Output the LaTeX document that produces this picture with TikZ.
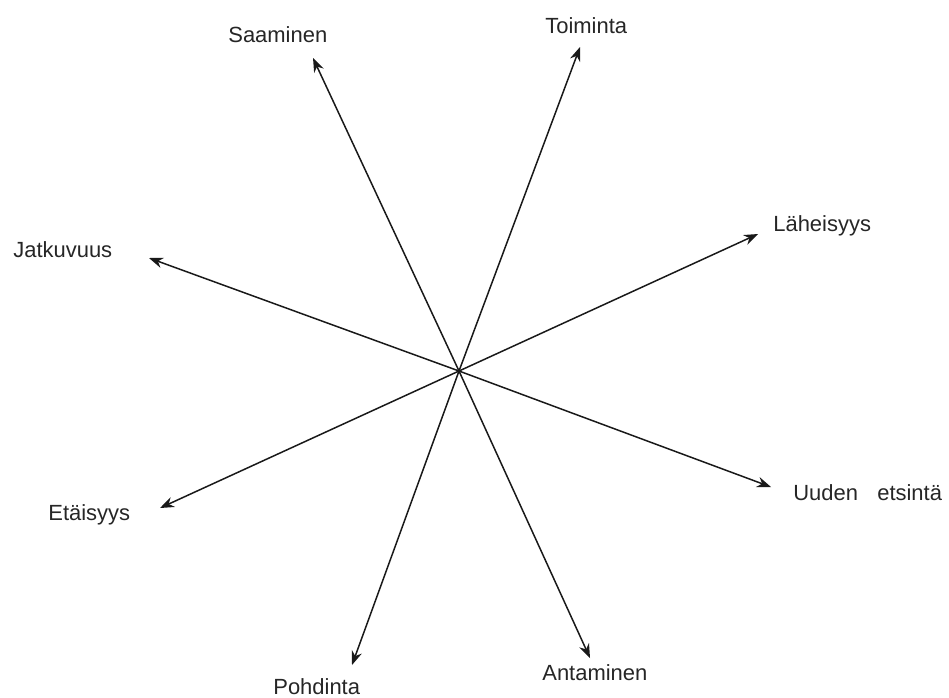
\documentclass[tikz,border=0pt]{standalone}
\usepackage{fontspec}
\setmainfont{Liberation Sans}
\usetikzlibrary{arrows.meta}

\begin{document}
\begin{tikzpicture}[
  x=0.02cm,y=-0.02cm,
  every node/.style={font=\fontsize{12.5}{15}\selectfont,text=black!85,inner sep=0pt},
  lbl/.style={anchor=base west},
  ray/.style={black!90,line width=0.85pt,-{Stealth[length=8pt,width=6pt]}}]

  % --- frame, same proportions as the page
  \useasboundingbox (0,0) rectangle (949,697);

  % --- common centre of all rays
  \coordinate (o) at (459,371);

  % --- arrow ends
  \coordinate (saa) at (313, 58);
  \coordinate (toi) at (580, 47);
  \coordinate (lah) at (758,234);
  \coordinate (jat) at (149,258);
  \coordinate (uud) at (771,487);
  \coordinate (eta) at (160,508);
  \coordinate (poh) at (352,665);
  \coordinate (ant) at (590,658);

  % --- labels
  \node[lbl] (saaL) at (228, 42) {Saaminen};
  \node[lbl] (toiL) at (545, 33) {Toiminta};
  \node[lbl] (lahL) at (773,231) {Läheisyys};
  \node[lbl] (jatL) at ( 13,257) {Jatkuvuus};
  \node[lbl] (uudL) at (793,500) {Uuden\hspace{0.6em} etsintä};
  \node[lbl] (etaL) at ( 48,520) {Etäisyys};
  \node[lbl] (pohL) at (273,694) {Pohdinta};
  \node[lbl] (antL) at (542,680) {Antaminen};

  % --- rays
  \draw[ray] (o) -- (saa);
  \draw[ray] (o) -- (toi);
  \draw[ray] (o) -- (lah);
  \draw[ray] (o) -- (jat);
  \draw[ray] (o) -- (uud);
  \draw[ray] (o) -- (eta);
  \draw[ray] (o) -- (poh);
  \draw[ray] (o) -- (ant);
\end{tikzpicture}
\end{document}
